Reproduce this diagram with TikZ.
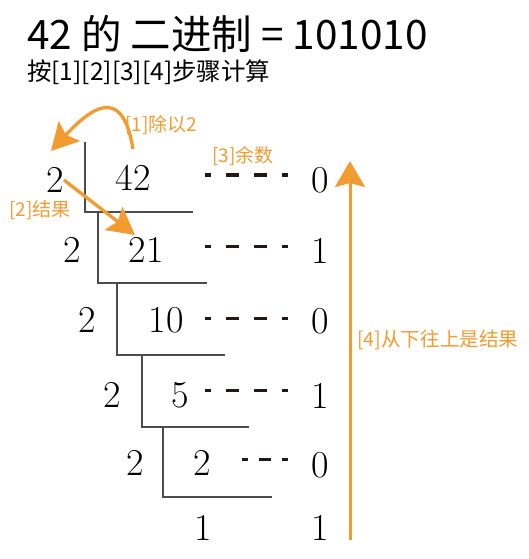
\documentclass[tikz,border=0pt]{standalone}
\usepackage{fontspec}
\newfontfamily\cjk{Noto Sans CJK SC}
\usetikzlibrary{arrows.meta}
\definecolor{steporange}{HTML}{F29B30}
\definecolor{dashgray}{HTML}{231815}

\begin{document}
\begin{tikzpicture}[x=1pt, y=-1pt,
  num/.style={inner sep=0pt, font=\fontsize{38}{40}\selectfont},
  steplabel/.style={anchor=west, inner sep=0pt, text=steporange, font=\cjk\fontsize{19}{21}\selectfont},
  stepline/.style={draw=black!70, line width=1.3pt},
  remline/.style={draw=dashgray, line width=3pt, dash pattern=on 13pt off 15pt, dash phase=7pt},
  steparrow/.style={draw=steporange, line width=3.3pt, -{Stealth[length=27pt, width=29pt, inset=5pt]}}]
% Set the page size (1pt = 1px)
\useasboundingbox (0,0) rectangle (528,559);

% Title and subtitle
\node[anchor=base west, inner sep=0pt, font=\cjk\fontsize{40.5}{42}\selectfont] (title) at (27,50) {42 的 二进制 = 101010};
\node[anchor=base west, inner sep=0pt, font=\cjk\fontsize{24.5}{26}\selectfont] (subtitle) at (27,81) {按[1][2][3][4]步骤计算};

% Divisors, quotients and remainders
\node[num] (d1) at (55,180) {2};
\node[num] (q1) at (133,178) {42};
\node[num] (r1) at (320,180) {0};
\node[num] (d2) at (72,250) {2};
\node[num] (q2) at (146,250) {21};
\node[num] (r2) at (320,251) {1};
\node[num] (d3) at (87,320) {2};
\node[num] (q3) at (166,320) {10};
\node[num] (r3) at (320,321) {0};
\node[num] (d4) at (112,395) {2};
\node[num] (q4) at (180,395) {5};
\node[num] (r4) at (320,396) {1};
\node[num] (d5) at (135,463) {2};
\node[num] (q5) at (202,463) {2};
\node[num] (r5) at (320,465) {0};
\node[num] (q6) at (203,528) {1};
\node[num] (r6) at (320,528) {1};

% Division brackets
\draw[stepline] (85,142) -- (85,212) -- (193,212);
\draw[stepline] (98,212) -- (98,283) -- (207,283);
\draw[stepline] (117,283) -- (117,355) -- (225,355);
\draw[stepline] (142,355) -- (142,427) -- (249,427);
\draw[stepline] (163,427) -- (163,497) -- (272,497);

% Dashes to the remainders
\coordinate (m1s) at (205,175); \coordinate (m1e) at (288,175);
\coordinate (m2s) at (205,246); \coordinate (m2e) at (288,246);
\coordinate (m3s) at (205,318); \coordinate (m3e) at (288,318);
\coordinate (m4s) at (205,390); \coordinate (m4e) at (288,390);
\coordinate (m5s) at (242,459); \coordinate (m5e) at (288,459);
\draw[remline, line width=4pt] (m1s) -- (m1e);
\draw[remline] (m2s) -- (m2e);
\draw[remline] (m3s) -- (m3e);
\draw[remline] (m4s) -- (m4e);
\draw[remline, dash pattern=on 12pt off 11pt, dash phase=6pt] (m5s) -- (m5e);

% Step arrows
\coordinate (a1s) at (133,149);
\coordinate (a1e) at (51,151);
\draw[steparrow] (a1s) .. controls (124,94) and (100,98) .. (a1e);
\coordinate (a2e) at (135,235);
\draw[steparrow] (d1.east) -- (a2e);
\coordinate (a4s) at (350,540);
\coordinate (a4e) at (350,161);
\draw[steparrow, line width=3pt, -{Stealth[length=26pt, width=30pt, inset=4pt]}] (a4s) -- (a4e);

% Step labels
\node[steplabel] (l1) at (125,125) {[1]除以2};
\node[steplabel] (l2) at (9,210) {[2]结果};
\node[steplabel] (l3) at (212,156) {[3]余数};
\node[steplabel, font=\cjk\fontsize{19.6}{21}\selectfont] (l4) at (357,340) {[4]从下往上是结果};
\end{tikzpicture}
\end{document}
